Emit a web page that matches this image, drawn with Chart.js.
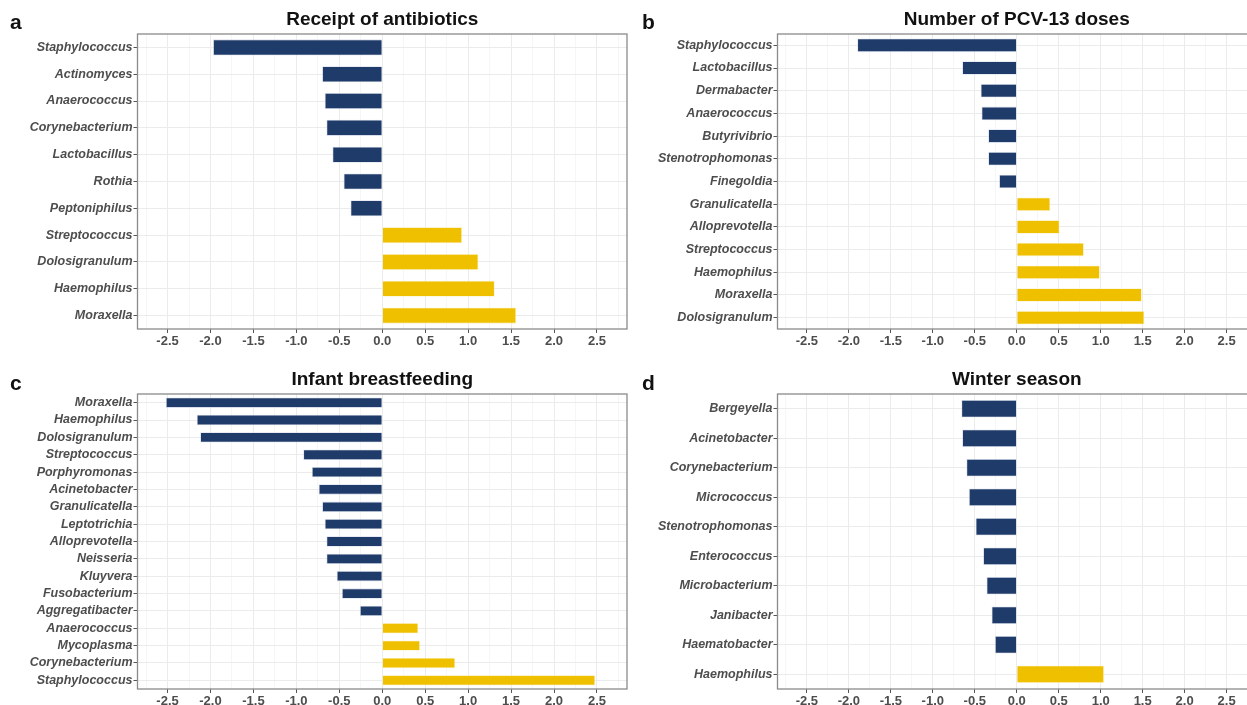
<!DOCTYPE html>
<html>
<head>
<meta charset="utf-8">
<script src="https://cdn.jsdelivr.net/npm/chart.js@4.4.1/dist/chart.umd.min.js"></script>
<style>
  html, body { margin: 0; padding: 0; background: #ffffff; }
  body { width: 1247px; height: 705px; overflow: hidden; position: relative; }
  canvas { position: absolute; }
</style>
</head>
<body>
<canvas id="pa"></canvas>
<canvas id="pb"></canvas>
<canvas id="pc"></canvas>
<canvas id="pd"></canvas>
<script>
// Genera associated with each exposure (effect estimates)
const antibioticsGenera = ['Staphylococcus', 'Actinomyces', 'Anaerococcus', 'Corynebacterium', 'Lactobacillus', 'Rothia', 'Peptoniphilus', 'Streptococcus', 'Dolosigranulum', 'Haemophilus', 'Moraxella'];
const antibioticsValues = [-1.97, -0.70, -0.67, -0.65, -0.58, -0.45, -0.37, 0.93, 1.12, 1.31, 1.56];

const pcvGenera = ['Staphylococcus', 'Lactobacillus', 'Dermabacter', 'Anaerococcus', 'Butyrivibrio', 'Stenotrophomonas', 'Finegoldia', 'Granulicatella', 'Alloprevotella', 'Streptococcus', 'Haemophilus', 'Moraxella', 'Dolosigranulum'];
const pcvValues = [-1.90, -0.65, -0.43, -0.42, -0.34, -0.34, -0.21, 0.40, 0.51, 0.80, 0.99, 1.49, 1.52];

const breastfeedingGenera = ['Moraxella', 'Haemophilus', 'Dolosigranulum', 'Streptococcus', 'Porphyromonas', 'Acinetobacter', 'Granulicatella', 'Leptotrichia', 'Alloprevotella', 'Neisseria', 'Kluyvera', 'Fusobacterium', 'Aggregatibacter', 'Anaerococcus', 'Mycoplasma', 'Corynebacterium', 'Staphylococcus'];
const breastfeedingValues = [-2.52, -2.16, -2.12, -0.92, -0.82, -0.74, -0.70, -0.67, -0.65, -0.65, -0.53, -0.47, -0.26, 0.42, 0.44, 0.85, 2.48];

const winterGenera = ['Bergeyella', 'Acinetobacter', 'Corynebacterium', 'Micrococcus', 'Stenotrophomonas', 'Enterococcus', 'Microbacterium', 'Janibacter', 'Haematobacter', 'Haemophilus'];
const winterValues = [-0.66, -0.65, -0.60, -0.57, -0.49, -0.40, -0.36, -0.30, -0.26, 1.04];

// Shared x-axis ticks (every 0.25; labelled every 0.5)
const xTicks = [-2.75, -2.5, -2.25, -2.0, -1.75, -1.5, -1.25, -1.0, -0.75, -0.5, -0.25, 0, 0.25, 0.5, 0.75, 1.0, 1.25, 1.5, 1.75, 2.0, 2.25, 2.5, 2.75];
const X_MIN = -2.85, X_MAX = 2.85;

const NEG_COLOR = '#1f3b69';
const POS_COLOR = '#efc000';

const isMajor = v => Math.abs(Math.round(v * 2) - v * 2) < 1e-6;

// Panel frame + panel letter
const framePlugin = {
  id: 'frame',
  afterDraw(chart, args, opts) {
    const { ctx, chartArea: a } = chart;
    ctx.save();
    ctx.strokeStyle = '#8a8a8a';
    ctx.lineWidth = 1.3;
    ctx.strokeRect(a.left, a.top, a.right - a.left, a.bottom - a.top);
    ctx.fillStyle = '#111111';
    ctx.font = 'bold 21px "Liberation Sans", Arial, sans-serif';
    ctx.textBaseline = 'alphabetic';
    ctx.textAlign = 'left';
    ctx.fillText(opts.letter, opts.lx, opts.ly);
    ctx.restore();
  }
};

function makePanel(id, pos, letter, lpos, title, genera, values) {
  const cv = document.getElementById(id);
  cv.width = pos.w; cv.height = pos.h;
  cv.style.left = pos.x + 'px'; cv.style.top = pos.y + 'px';
  cv.style.width = pos.w + 'px'; cv.style.height = pos.h + 'px';
  return new Chart(cv, {
    type: 'bar',
    data: {
      labels: genera,
      datasets: [{
        data: values,
        backgroundColor: values.map(v => v < 0 ? NEG_COLOR : POS_COLOR),
        borderColor: values.map(v => v < 0 ? 'rgba(190,200,225,0.6)' : 'rgba(250,235,170,0.6)'),
        borderWidth: 0.8,
        barPercentage: 0.6,
        categoryPercentage: 1.0
      }]
    },
    options: {
      indexAxis: 'y',
      responsive: false,
      animation: false,
      devicePixelRatio: 1,
      layout: { padding: { left: 0, right: pos.padRight, top: 0, bottom: 0 } },
      plugins: {
        legend: { display: false },
        tooltip: { enabled: false },
        title: {
          display: true,
          text: title,
          fullSize: false,
          color: '#111111',
          font: { family: '"Liberation Sans", Arial, sans-serif', size: 19, weight: 'bold', lineHeight: 1.2 },
          padding: { top: 8, bottom: 3.2 }
        },
        frame: { letter: letter, lx: lpos.x, ly: lpos.y }
      },
      scales: {
        x: {
          type: 'linear',
          min: X_MIN,
          max: X_MAX,
          afterBuildTicks: s => { s.ticks = xTicks.map(v => ({ value: v })); },
          afterFit: s => { s.height = 23; },
          border: { display: false },
          grid: {
            color: c => isMajor(c.tick.value) ? '#ebebeb' : '#f4f4f4',
            lineWidth: c => isMajor(c.tick.value) ? 1 : 0.8,
            tickColor: c => isMajor(c.tick.value) ? '#555555' : 'rgba(0,0,0,0)',
            tickLength: 4,
            drawOnChartArea: true
          },
          ticks: {
            autoSkip: false,
            maxRotation: 0,
            padding: 1,
            color: '#4d4d4d',
            font: { family: '"Liberation Sans", Arial, sans-serif', size: 13, weight: 'bold' },
            callback: v => isMajor(v) ? v.toFixed(1) : ''
          }
        },
        y: {
          type: 'category',
          offset: true,
          afterFit: s => { s.width = 137.5; },
          border: { display: false },
          grid: {
            offset: false,
            color: '#ebebeb',
            lineWidth: 1,
            tickColor: '#555555',
            tickLength: 4
          },
          ticks: {
            autoSkip: false,
            padding: 1,
            color: '#4d4d4d',
            font: { family: '"Liberation Sans", Arial, sans-serif', size: 12.5, weight: 'bold', style: 'italic' }
          }
        }
      }
    },
    plugins: [framePlugin]
  });
}

makePanel('pa', { x: 0, y: 0, w: 640, h: 352, padRight: 13 }, 'a', { x: 10, y: 29 },
  'Receipt of antibiotics', antibioticsGenera, antibioticsValues);
makePanel('pb', { x: 640, y: 0, w: 629, h: 352, padRight: 13 }, 'b', { x: 2, y: 29 },
  'Number of PCV-13 doses', pcvGenera, pcvValues);
makePanel('pc', { x: 0, y: 360, w: 640, h: 352, padRight: 13 }, 'c', { x: 10, y: 30 },
  'Infant breastfeeding', breastfeedingGenera, breastfeedingValues);
makePanel('pd', { x: 640, y: 360, w: 629, h: 352, padRight: 13 }, 'd', { x: 2, y: 30 },
  'Winter season', winterGenera, winterValues);
</script>
</body>
</html>
